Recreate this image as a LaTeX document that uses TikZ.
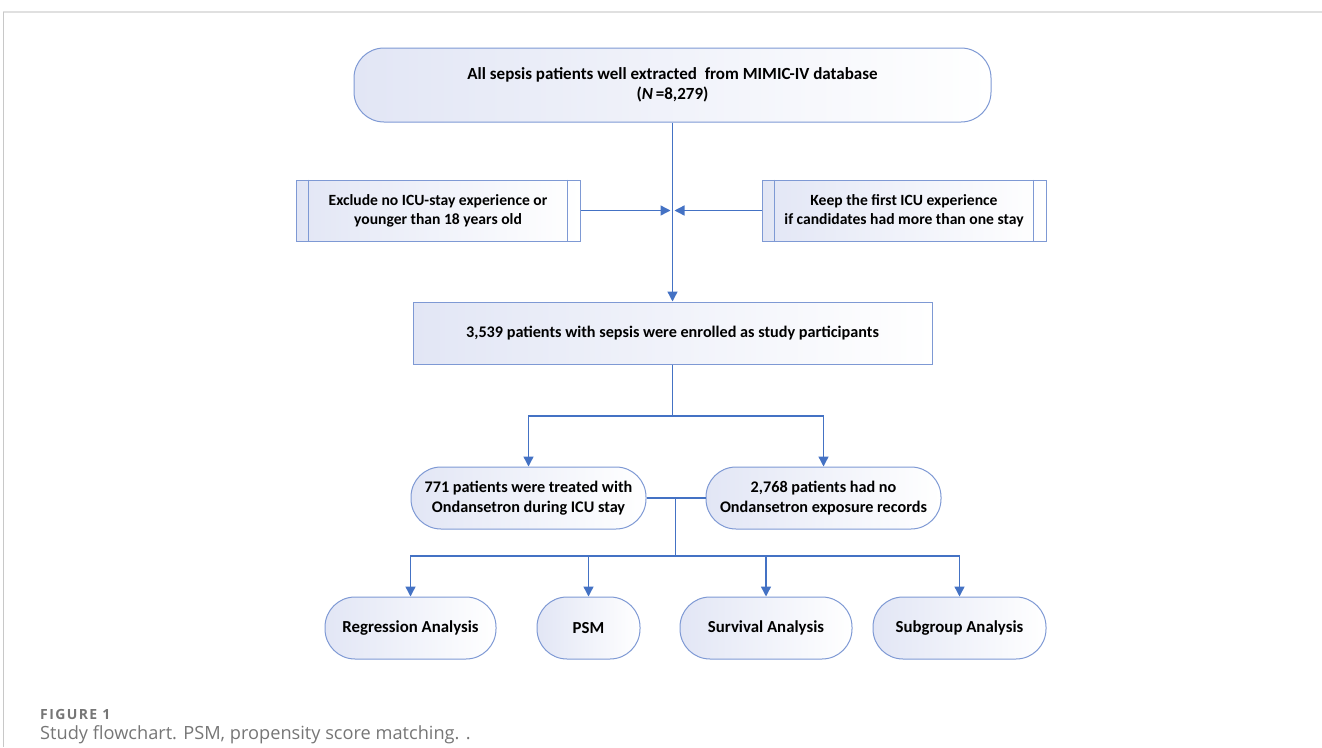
\documentclass[tikz,border=0pt]{standalone}
\usepackage{fontspec}
\setmainfont{Carlito}
\newfontfamily\capfont{Open Sans}
\newfontfamily\figfont[LetterSpace=10]{Open Sans}
\usetikzlibrary{arrows.meta}

\begin{document}
\begin{tikzpicture}[x=1pt,y=-1pt]
	\tikzstyle{every node}=[font=\bfseries]
	
	\definecolor{a0line}{RGB}{68,114,196}
	\definecolor{a0edge}{RGB}{126,153,212}
	\definecolor{a0fill}{RGB}{226,230,245}
	\definecolor{a0rule}{RGB}{224,224,224}
	\definecolor{a0side}{RGB}{200,200,200}
	\definecolor{a0cap}{RGB}{118,118,118}
	
	\tikzstyle{box}=[draw=a0edge, line width=1pt, left color=a0fill, right color=white, align=center, inner sep=0pt]
	\tikzstyle{pill}=[box, rounded corners=30pt]
	\tikzstyle{arr}=[draw=a0line, line width=1.4pt, -{Triangle[length=10pt,width=10pt]}]
	\tikzstyle{link}=[draw=a0line, line width=1.4pt]
	
	\useasboundingbox (0,0) rectangle (1322,747);
	
	%% frame
	\draw [a0rule, line width=2pt] (3,12) -- (1322,12);
	\draw [a0side, line width=0.8pt] (3.5,12) -- (3.5,747);
	
	%% boxes
	\node [pill, minimum width=637pt, minimum height=74pt, font=\bfseries\fontsize{17}{20}\selectfont] (all) at (672.5,85) {All sepsis patients well extracted\ \ from MIMIC-IV database\\(\textit{N}\,=8,279)};
	\node [box, minimum width=284pt, minimum height=61pt, font=\bfseries\fontsize{15.6}{19}\selectfont] (excl) at (438,210.5) {Exclude no ICU-stay experience or\\younger than 18 years old};
	\node [box, minimum width=284pt, minimum height=61pt, font=\bfseries\fontsize{15.6}{19}\selectfont] (keep) at (904,210.5) {Keep the first ICU experience\\if candidates had more than one stay};
	\node [box, minimum width=519pt, minimum height=62pt, font=\bfseries\fontsize{16.2}{20}\selectfont] (enrol) at (672.5,333) {3,539 patients with sepsis were enrolled as study participants};
	\node [pill, minimum width=235pt, minimum height=62pt, font=\bfseries\fontsize{16.2}{20}\selectfont] (treat) at (528.5,498) {771 patients were treated with\\Ondansetron during ICU stay};
	\node [pill, minimum width=235pt, minimum height=62pt, font=\bfseries\fontsize{16.2}{20}\selectfont] (noexp) at (823.5,498) {2,768 patients had no\\Ondansetron exposure records};
	\node [pill, minimum width=171pt, minimum height=62pt, font=\bfseries\fontsize{16.8}{18}\selectfont] (regr) at (410.5,628) {Regression Analysis};
	\node [pill, minimum width=103pt, minimum height=62pt, font=\bfseries\fontsize{16.8}{18}\selectfont] (psm) at (588.5,628) {PSM};
	\node [pill, minimum width=172pt, minimum height=62pt, font=\bfseries\fontsize{16.8}{18}\selectfont] (surv) at (766,628) {Survival Analysis};
	\node [pill, minimum width=173pt, minimum height=62pt, font=\bfseries\fontsize{16.8}{18}\selectfont] (subg) at (959.5,628) {Subgroup Analysis};
	
	%% side bars of the process boxes
	\draw [a0edge, line width=1pt] ([xshift=13pt]excl.north west) -- ([xshift=13pt]excl.south west);
	\draw [a0edge, line width=1pt] ([xshift=-13pt]excl.north east) -- ([xshift=-13pt]excl.south east);
	\draw [a0edge, line width=1pt] ([xshift=13pt]keep.north west) -- ([xshift=13pt]keep.south west);
	\draw [a0edge, line width=1pt] ([xshift=-13pt]keep.north east) -- ([xshift=-13pt]keep.south east);
	
	%% junctions
	\coordinate (mid) at (672.5,210.5);
	\coordinate (split) at (672.5,416);
	\coordinate (join) at (675.5,498);
	\coordinate (bus) at (675.5,556);
	
	%% connectors
	\draw [arr] (all.south) -- (enrol.north);
	\draw [arr] (excl.east) -- ([xshift=-2pt]mid);
	\draw [arr] (keep.west) -- ([xshift=2pt]mid);
	\draw [link] (enrol.south) -- (split);
	\draw [arr] (split) -| (treat.north);
	\draw [arr] (split) -| (noexp.north);
	\draw [link] (treat.east) -- (noexp.west);
	\draw [link] (join) -- (bus);
	\draw [arr] (bus) -| (regr.north);
	\draw [arr] (bus) -| (psm.north);
	\draw [arr] (bus) -| (surv.north);
	\draw [arr] (bus) -| (subg.north);
	
	%% caption
	\node [anchor=west, inner sep=0pt, text=a0cap, font=\figfont\bfseries\fontsize{14}{16}\selectfont] (fig) at (40,714) {FIGURE 1};
	\node [anchor=west, inner sep=0pt, text=a0cap, font=\capfont\fontsize{18.2}{20}\selectfont] (cap) at (40,735) {Study flowchart. PSM, propensity score matching. .};

\end{tikzpicture}
\end{document}
